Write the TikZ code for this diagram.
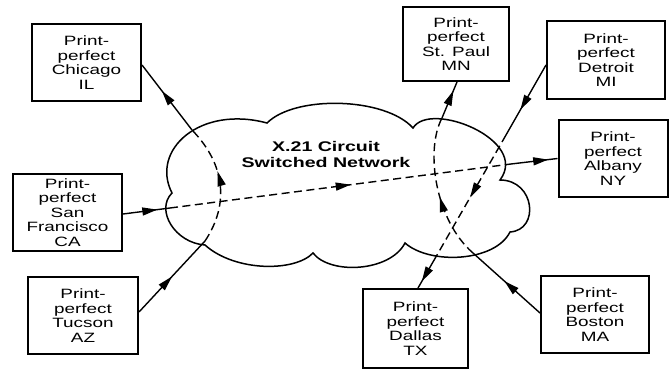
\documentclass[tikz,border=0pt]{standalone}
\usepackage{fontspec}
\setmainfont{Liberation Sans}
\newfontfamily\boxfont[FakeStretch=1.4]{Liberation Sans}
\usetikzlibrary{arrows.meta,decorations.markings}
\begin{document}
\begin{tikzpicture}[x=1pt,y=-1pt,
  box/.style={draw,line width=2pt,align=center,inner sep=0pt,
    font=\boxfont\fontsize{13.5}{14.5}\selectfont},
  cloudline/.style={line width=1.5pt},
  conn/.style={line width=1.4pt},
  dsh/.style={dash pattern=on 8pt off 4.5pt},
  arr/.style={postaction={decorate,decoration={markings,
    mark=at position #1 with {\arrow{Triangle[length=15pt,width=8pt]}}}}}]
\useasboundingbox (0,0) rectangle (669,369);

% cloud
\draw[cloudline] (267,123) .. controls (295,95) and (385,97) .. (413,128)
  .. controls (430,100) and (530,140) .. (500,180)
  .. controls (535,180) and (540,230) .. (510,232)
  .. controls (495,262) and (430,265) .. (405,243)
  .. controls (390,272) and (330,275) .. (313,253)
  .. controls (295,272) and (235,272) .. (205,245)
  .. controls (175,243) and (155,210) .. (172,193)
  .. controls (150,150) and (200,105) .. (267,123) -- cycle;
\node[font=\boxfont\bfseries\fontsize{14}{16}\selectfont,align=center] (lab) at (326,154) {X.21 Circuit\\Switched Network};

% boxes
\node[box,minimum width=109pt,minimum height=77pt] (chi) at (86.5,62.5) {Print-\\perfect\\Chicago\\IL};
\node[box,minimum width=109pt,minimum height=77pt] (sf) at (67.5,212.5) {Print-\\perfect\\San\\Francisco\\CA};
\node[box,minimum width=110pt,minimum height=77pt] (tuc) at (83,315.5) {Print-\\perfect\\Tucson\\AZ};
\node[box,minimum width=106pt,minimum height=74pt] (stp) at (456,44) {Print-\\perfect\\St. Paul\\MN};
\node[box,minimum width=118pt,minimum height=78pt] (det) at (606,60) {Print-\\perfect\\Detroit\\MI};
\node[box,minimum width=109pt,minimum height=77pt] (alb) at (613,158.5) {Print-\\perfect\\Albany\\NY};
\node[box,minimum width=105pt,minimum height=79pt] (dal) at (415.5,328.5) {Print-\\perfect\\Dallas\\TX};
\node[box,minimum width=108pt,minimum height=77pt] (bos) at (595,314.5) {Print-\\perfect\\Boston\\MA};

% waypoints on the cloud edge
\coordinate (a1) at (205,241);
\coordinate (a2) at (192,130);
\coordinate (b1) at (170,208);
\coordinate (b2) at (511,164);
\coordinate (c1) at (473,253);
\coordinate (c2) at (442,118);
\coordinate (d1) at (506,135);
\coordinate (d2) at (437,255);

% Tucson -> Chicago
\draw[conn,arr=0.5] ([yshift=3.5pt]tuc.east) -- (a1);
\draw[conn,dsh,arr=0.6] (a1) .. controls (229,205) and (226,165) .. (a2);
\draw[conn,arr=0.6] (a2) -- ([yshift=-2.5pt]chi.east);

% San Francisco -> Albany
\draw[conn,arr=0.73] ([yshift=-1.5pt]sf.east) -- (b1);
\draw[conn,dsh,arr=0.53] (b1) -- (b2);
\draw[conn,arr=0.8] (b2) -- (alb.west);

% Boston -> St. Paul
\draw[conn,arr=0.53] ([yshift=1.5pt]bos.west) -- (c1);
\draw[conn,dsh,arr=0.45] (c1) .. controls (435,220) and (425,150) .. (c2);
\draw[conn,arr=0.76] (c2) -- ([xshift=1pt]stp.south);

% Detroit -> Dallas
\draw[conn,arr=0.64] ([yshift=-5pt]det.west) -- (d1);
\draw[conn,dsh,arr=0.52] (d1) -- (d2);
\draw[conn,arr=0.8] (d2) -- ([xshift=2.5pt]dal.north);
\end{tikzpicture}
\end{document}
